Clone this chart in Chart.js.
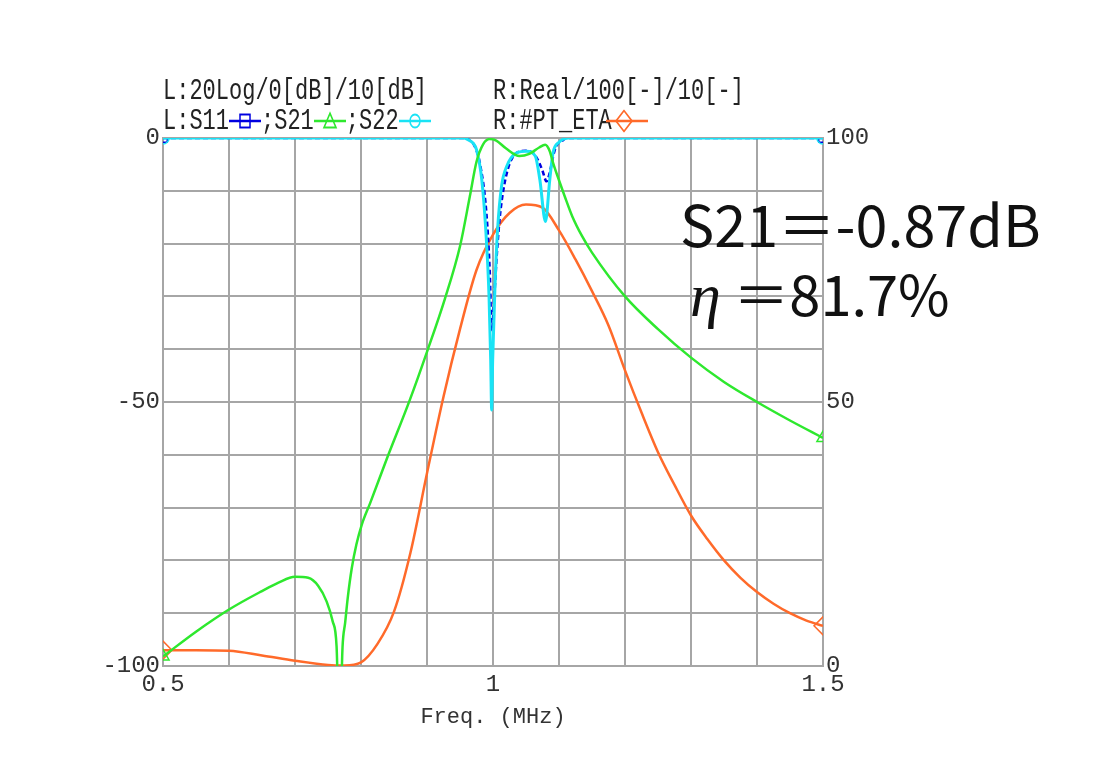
<!DOCTYPE html>
<html>
<head>
<meta charset="utf-8">
<script src="https://cdn.jsdelivr.net/npm/chart.js@4.4.1/dist/chart.umd.min.js"></script>
<style>
  body { margin: 0; background: #fff; }
  #wrap { position: relative; width: 1100px; height: 768px; }
  .hdr {
    position: absolute; font-family: 'Liberation Mono', monospace; font-size: 22px;
    line-height: 22px; color: #222; white-space: nowrap;
    transform: scaleY(1.3); transform-origin: top left;
  }
  .hdr svg { vertical-align: middle; }
  .note {
    position: absolute; font-family: 'Noto Sans CJK JP', 'Noto Sans', sans-serif;
    font-size: 56px; line-height: 56px; color: #111; white-space: nowrap;
  }
  .note i { font-family: 'Liberation Serif', serif; font-size: 62px; }
</style>
</head>
<body>
<div id="wrap">
  <canvas id="chart" width="1100" height="768"></canvas>
  <div class="hdr" style="left:163px; top:78px;">L:20Log/0[dB]/10[dB]</div>
  <div class="hdr" style="left:493px; top:78px;">R:Real/100[-]/10[-]</div>
  <div class="hdr" style="left:163px; top:108px;">L:S11<svg width="32" height="18"><line x1="0" y1="9" x2="32" y2="9" stroke="#0000e0" stroke-width="2"/><rect x="11" y="4" width="10" height="10" fill="none" stroke="#0000e0" stroke-width="1.5"/></svg>;S21<svg width="32" height="18"><line x1="0" y1="9" x2="32" y2="9" stroke="#2ee82e" stroke-width="2"/><polygon points="16,3 22,14 10,14" fill="none" stroke="#2ee82e" stroke-width="1.5"/></svg>;S22<svg width="32" height="18"><line x1="0" y1="9" x2="32" y2="9" stroke="#19e3f5" stroke-width="2"/><circle cx="16" cy="9" r="5" fill="none" stroke="#19e3f5" stroke-width="1.5"/></svg></div>
  <div class="hdr" style="left:493px; top:108px;">R:#PT_ETA<svg width="42" height="18" style="margin-left:-6px"><line x1="0" y1="9" x2="42" y2="9" stroke="#ff6a2a" stroke-width="2"/><polygon points="18,1 26,9 18,17 10,9" fill="none" stroke="#ff6a2a" stroke-width="1.5"/></svg></div>
  <div class="note" style="left:680px; top:194px; font-size:57.5px;">S21＝-0.87dB</div>
  <div class="note" style="left:690px; top:264px;"><i>η</i> ＝81.7%</div>
</div>
<script>
// x axis: frequency in MHz
const xTickValues = [0.5, 1, 1.5];
const xTickLabels = ['0.5', '1', '1.5'];
// left axis dB, right axis efficiency
const leftTickValues = [0, -50, -100];
const rightTickValues = [100, 50, 0];

// S11 (blue, dashed)
const s11Freq = [0.5, 0.958, 0.965, 0.972, 0.98, 0.99, 0.995, 0.998, 1.002, 1.006, 1.011, 1.021, 1.036, 1.05, 1.062, 1.069, 1.075, 1.081, 1.087, 1.091, 1.096, 1.105, 1.112, 1.5];
const s11Db   = [0, 0, -0.5, -1.5, -4.7, -14.2, -25, -36.5, -30, -21.7, -14.2, -6.6, -2.8, -2.4, -3.0, -4.4, -6.2, -8.2, -6.0, -3.5, -1.5, -0.5, 0, 0];

// S21 (green)
const s21Freq = [0.5, 0.55, 0.6, 0.65, 0.675, 0.7, 0.72, 0.735, 0.748, 0.757, 0.763, 0.7675, 0.772, 0.776, 0.78, 0.786, 0.793, 0.801, 0.814, 0.839, 0.874, 0.9, 0.927, 0.95, 0.965, 0.975, 0.985, 0.995, 1.005, 1.02, 1.04, 1.055, 1.07, 1.079, 1.086, 1.091, 1.1, 1.11, 1.12, 1.135, 1.15, 1.2, 1.25, 1.3, 1.35, 1.4, 1.45, 1.5];
const s21Db   = [-98.2, -93.5, -89.3, -85.8, -84.2, -83.1, -83.3, -84.8, -87.8, -91.5, -96.3, -115, -96.5, -91.8, -87.0, -81.5, -77.0, -73.3, -69.1, -60.8, -49.6, -40.5, -30.5, -20.5, -11.0, -4.5, -1.2, -0.2, -0.5, -2.0, -3.4, -3.0, -1.8, -1.3, -2.5, -4.7, -8.0, -11.5, -14.8, -18.6, -21.7, -30.0, -36.2, -41.6, -46.2, -50.0, -53.5, -56.8];

// S22 (cyan)
const s22Freq = [0.5, 0.955, 0.962, 0.97, 0.975, 0.983, 0.989, 0.994, 0.9965, 0.998, 0.9995, 1.003, 1.007, 1.013, 1.021, 1.036, 1.051, 1.064, 1.071, 1.0795, 1.086, 1.091, 1.1, 1.107, 1.115, 1.5];
const s22Db   = [0, 0, -0.3, -1.0, -2.2, -7.9, -17.3, -30, -42, -51.5, -42, -28, -17.3, -9.1, -5.3, -2.8, -2.5, -3.4, -7.9, -15.8, -7.9, -2.8, -0.8, -0.2, 0, 0];

// PT_ETA (orange, right axis, %)
const etaFreq = [0.5, 0.55, 0.6, 0.65, 0.7, 0.75, 0.775, 0.8, 0.825, 0.85, 0.875, 0.9, 0.925, 0.95, 0.975, 1.0, 1.025, 1.05, 1.075, 1.1, 1.125, 1.15, 1.175, 1.2, 1.225, 1.25, 1.275, 1.3, 1.325, 1.35, 1.375, 1.4, 1.425, 1.45, 1.475, 1.5];
const etaPct  = [3.0, 3.0, 2.9, 2.0, 1.0, 0.2, 0.1, 0.7, 4.2, 10.3, 21.5, 36.5, 51.0, 63.8, 75.0, 81.7, 85.8, 87.4, 86.8, 82.5, 77.0, 71.0, 64.5, 56.0, 48.0, 40.5, 34.3, 28.5, 24.0, 20.0, 16.7, 14.0, 11.8, 10.0, 8.6, 7.6];

const toXY = (xs, ys) => xs.map((x, i) => ({ x: x, y: ys[i] }));
const endRadius = r => ctx => (ctx.dataIndex === 0 || ctx.dataIndex === ctx.dataset.data.length - 1) ? r : 0;

const gridColor = '#a6a6a6';
const tickFont = { family: 'Liberation Mono', size: 24 };
const near = (v, list) => list.find(t => Math.abs(t - v) < 1e-6);

new Chart(document.getElementById('chart'), {
    type: 'line',
    data: {
        datasets: [
            {
                label: 'S21', data: toXY(s21Freq, s21Db), yAxisID: 'y', order: 1,
                borderColor: '#2ee82e', borderWidth: 2.5, cubicInterpolationMode: 'monotone',
                pointStyle: 'triangle', pointRadius: endRadius(7), pointBorderColor: '#2ee82e',
                pointBackgroundColor: 'rgba(0,0,0,0)', pointBorderWidth: 1.5
            },
            {
                label: 'S22', data: toXY(s22Freq, s22Db), yAxisID: 'y', order: 2,
                borderColor: '#19e3f5', borderWidth: 3, cubicInterpolationMode: 'monotone',
                pointStyle: 'circle', pointRadius: endRadius(6), pointBorderColor: '#19e3f5',
                pointBackgroundColor: 'rgba(0,0,0,0)', pointBorderWidth: 1.5
            },
            {
                label: 'S11', data: toXY(s11Freq, s11Db), yAxisID: 'y', order: 3,
                borderColor: '#0000e0', borderWidth: 2.5, borderDash: [5, 3], cubicInterpolationMode: 'monotone',
                pointStyle: 'rect', pointRadius: endRadius(6), pointBorderColor: '#0000e0',
                pointBackgroundColor: 'rgba(0,0,0,0)', pointBorderWidth: 1.5
            },
            {
                label: 'PT_ETA', data: toXY(etaFreq, etaPct), yAxisID: 'y2', order: 4,
                borderColor: '#ff6a2a', borderWidth: 2.5, cubicInterpolationMode: 'monotone',
                pointStyle: 'rectRot', pointRadius: endRadius(9), pointBorderColor: '#ff6a2a',
                pointBackgroundColor: 'rgba(0,0,0,0)', pointBorderWidth: 1.5
            }
        ]
    },
    options: {
        responsive: false,
        animation: false,
        layout: { padding: { top: 138, left: 0, right: 0, bottom: 0 } },
        plugins: { legend: { display: false }, tooltip: { enabled: false } },
        scales: {
            x: {
                type: 'linear', min: 0.5, max: 1.5,
                afterFit: s => { s.height = 102; },
                grid: { color: gridColor, lineWidth: 2, drawTicks: false },
                border: { color: gridColor, width: 2 },
                ticks: {
                    stepSize: 0.1, padding: 4, color: '#333', font: tickFont, maxRotation: 0, autoSkip: false,
                    callback: v => { const t = near(v, xTickValues); return t === undefined ? '' : xTickLabels[xTickValues.indexOf(t)]; }
                },
                title: {
                    display: true, text: 'Freq. (MHz)', color: '#333',
                    font: { family: 'Liberation Mono', size: 22 }, padding: { top: 0, bottom: 38 }
                }
            },
            y: {
                position: 'left', min: -100, max: 0,
                afterFit: s => { s.width = 163; },
                grid: { color: gridColor, lineWidth: 2, drawTicks: false },
                border: { color: gridColor, width: 2 },
                ticks: {
                    stepSize: 10, padding: 3, color: '#333', font: tickFont, autoSkip: false,
                    callback: v => near(v, leftTickValues) === undefined ? '' : String(v)
                }
            },
            y2: {
                position: 'right', min: 0, max: 100,
                afterFit: s => { s.width = 277; },
                grid: { drawOnChartArea: false, drawTicks: false },
                border: { color: gridColor, width: 2 },
                ticks: {
                    stepSize: 10, padding: 3, color: '#333', font: tickFont, autoSkip: false,
                    callback: v => near(v, rightTickValues) === undefined ? '' : String(v)
                }
            }
        }
    }
});
</script>
</body>
</html>
